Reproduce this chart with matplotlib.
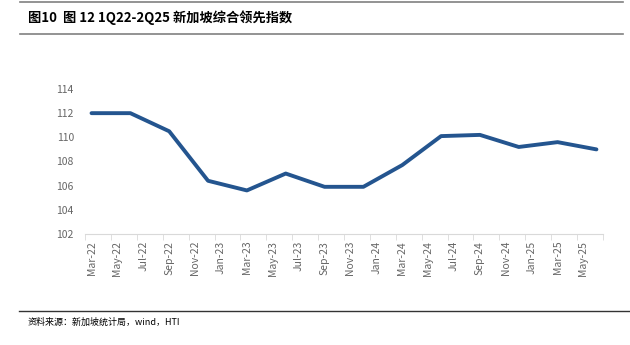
import matplotlib.pyplot as plt
from matplotlib.lines import Line2D
import numpy as np

plt.rcParams['font.family'] = ['Noto Sans CJK SC', 'DejaVu Sans']

# 季度末数据点 (Mar-22 .. Jun-25)
quarters = ["Mar-22", "Jun-22", "Sep-22", "Dec-22", "Mar-23", "Jun-23", "Sep-23",
            "Dec-23", "Mar-24", "Jun-24", "Sep-24", "Dec-24", "Mar-25", "Jun-25"]
values = [112.0, 112.0, 110.5, 106.4, 105.6, 107.0, 105.9,
          105.9, 107.7, 110.1, 110.2, 109.2, 109.6, 109.0]

# 月份轴标签（每两个月）
months = ["Mar-22", "Apr-22", "May-22", "Jun-22", "Jul-22", "Aug-22", "Sep-22", "Oct-22",
          "Nov-22", "Dec-22", "Jan-23", "Feb-23", "Mar-23", "Apr-23", "May-23", "Jun-23",
          "Jul-23", "Aug-23", "Sep-23", "Oct-23", "Nov-23", "Dec-23", "Jan-24", "Feb-24",
          "Mar-24", "Apr-24", "May-24", "Jun-24", "Jul-24", "Aug-24", "Sep-24", "Oct-24",
          "Nov-24", "Dec-24", "Jan-25", "Feb-25", "Mar-25", "Apr-25", "May-25", "Jun-25"]
yticks = [102, 104, 106, 108, 110, 112, 114]

x = [months.index(q) for q in quarters]

fig = plt.figure(figsize=(6.3, 3.45), dpi=100)
ax = fig.add_axes([0.135, 0.322, 0.822, 0.42])

ax.plot(x, values, color="#24558f", lw=2.8, solid_capstyle="round")

ax.set_xlim(-0.5, len(months) - 0.5)
ax.set_ylim(102, 114)
ax.set_yticks(yticks)
ax.set_yticklabels([str(v) for v in yticks], color="#666666", fontsize=7.5)
ax.tick_params(axis="y", length=0, pad=8)

ax.set_xticks(range(0, len(months), 2))
ax.set_xticklabels(months[::2], rotation=90, color="#666666", fontsize=7.5)
ax.set_xticks(np.arange(-0.5, len(months), 2), minor=True)
ax.tick_params(axis="x", which="major", length=0, pad=5)
ax.tick_params(axis="x", which="minor", length=4, color="#d9d9d9")

for s in ["top", "right", "left"]:
    ax.spines[s].set_visible(False)
ax.spines["bottom"].set_color("#d9d9d9")

# 标题和来源
fig.add_artist(Line2D([20 / 630, 623 / 630], [1 - 2 / 345, 1 - 2 / 345], color="#808080", lw=1.2))
fig.add_artist(Line2D([20 / 630, 623 / 630], [1 - 34 / 345, 1 - 34 / 345], color="#808080", lw=1.2))
fig.text(28 / 630, 1 - 18 / 345, "图10  图 12 1Q22-2Q25 新加坡综合领先指数",
         fontsize=9.5, fontweight="bold", va="center", ha="left")
fig.add_artist(Line2D([19 / 630, 1.0], [1 - 311 / 345, 1 - 311 / 345], color="#333333", lw=1.0))
fig.text(28 / 630, 1 - 322 / 345, "资料来源：新加坡统计局，wind，HTI",
         fontsize=6.5, va="center", ha="left")

fig.savefig("out.png", dpi=100)
